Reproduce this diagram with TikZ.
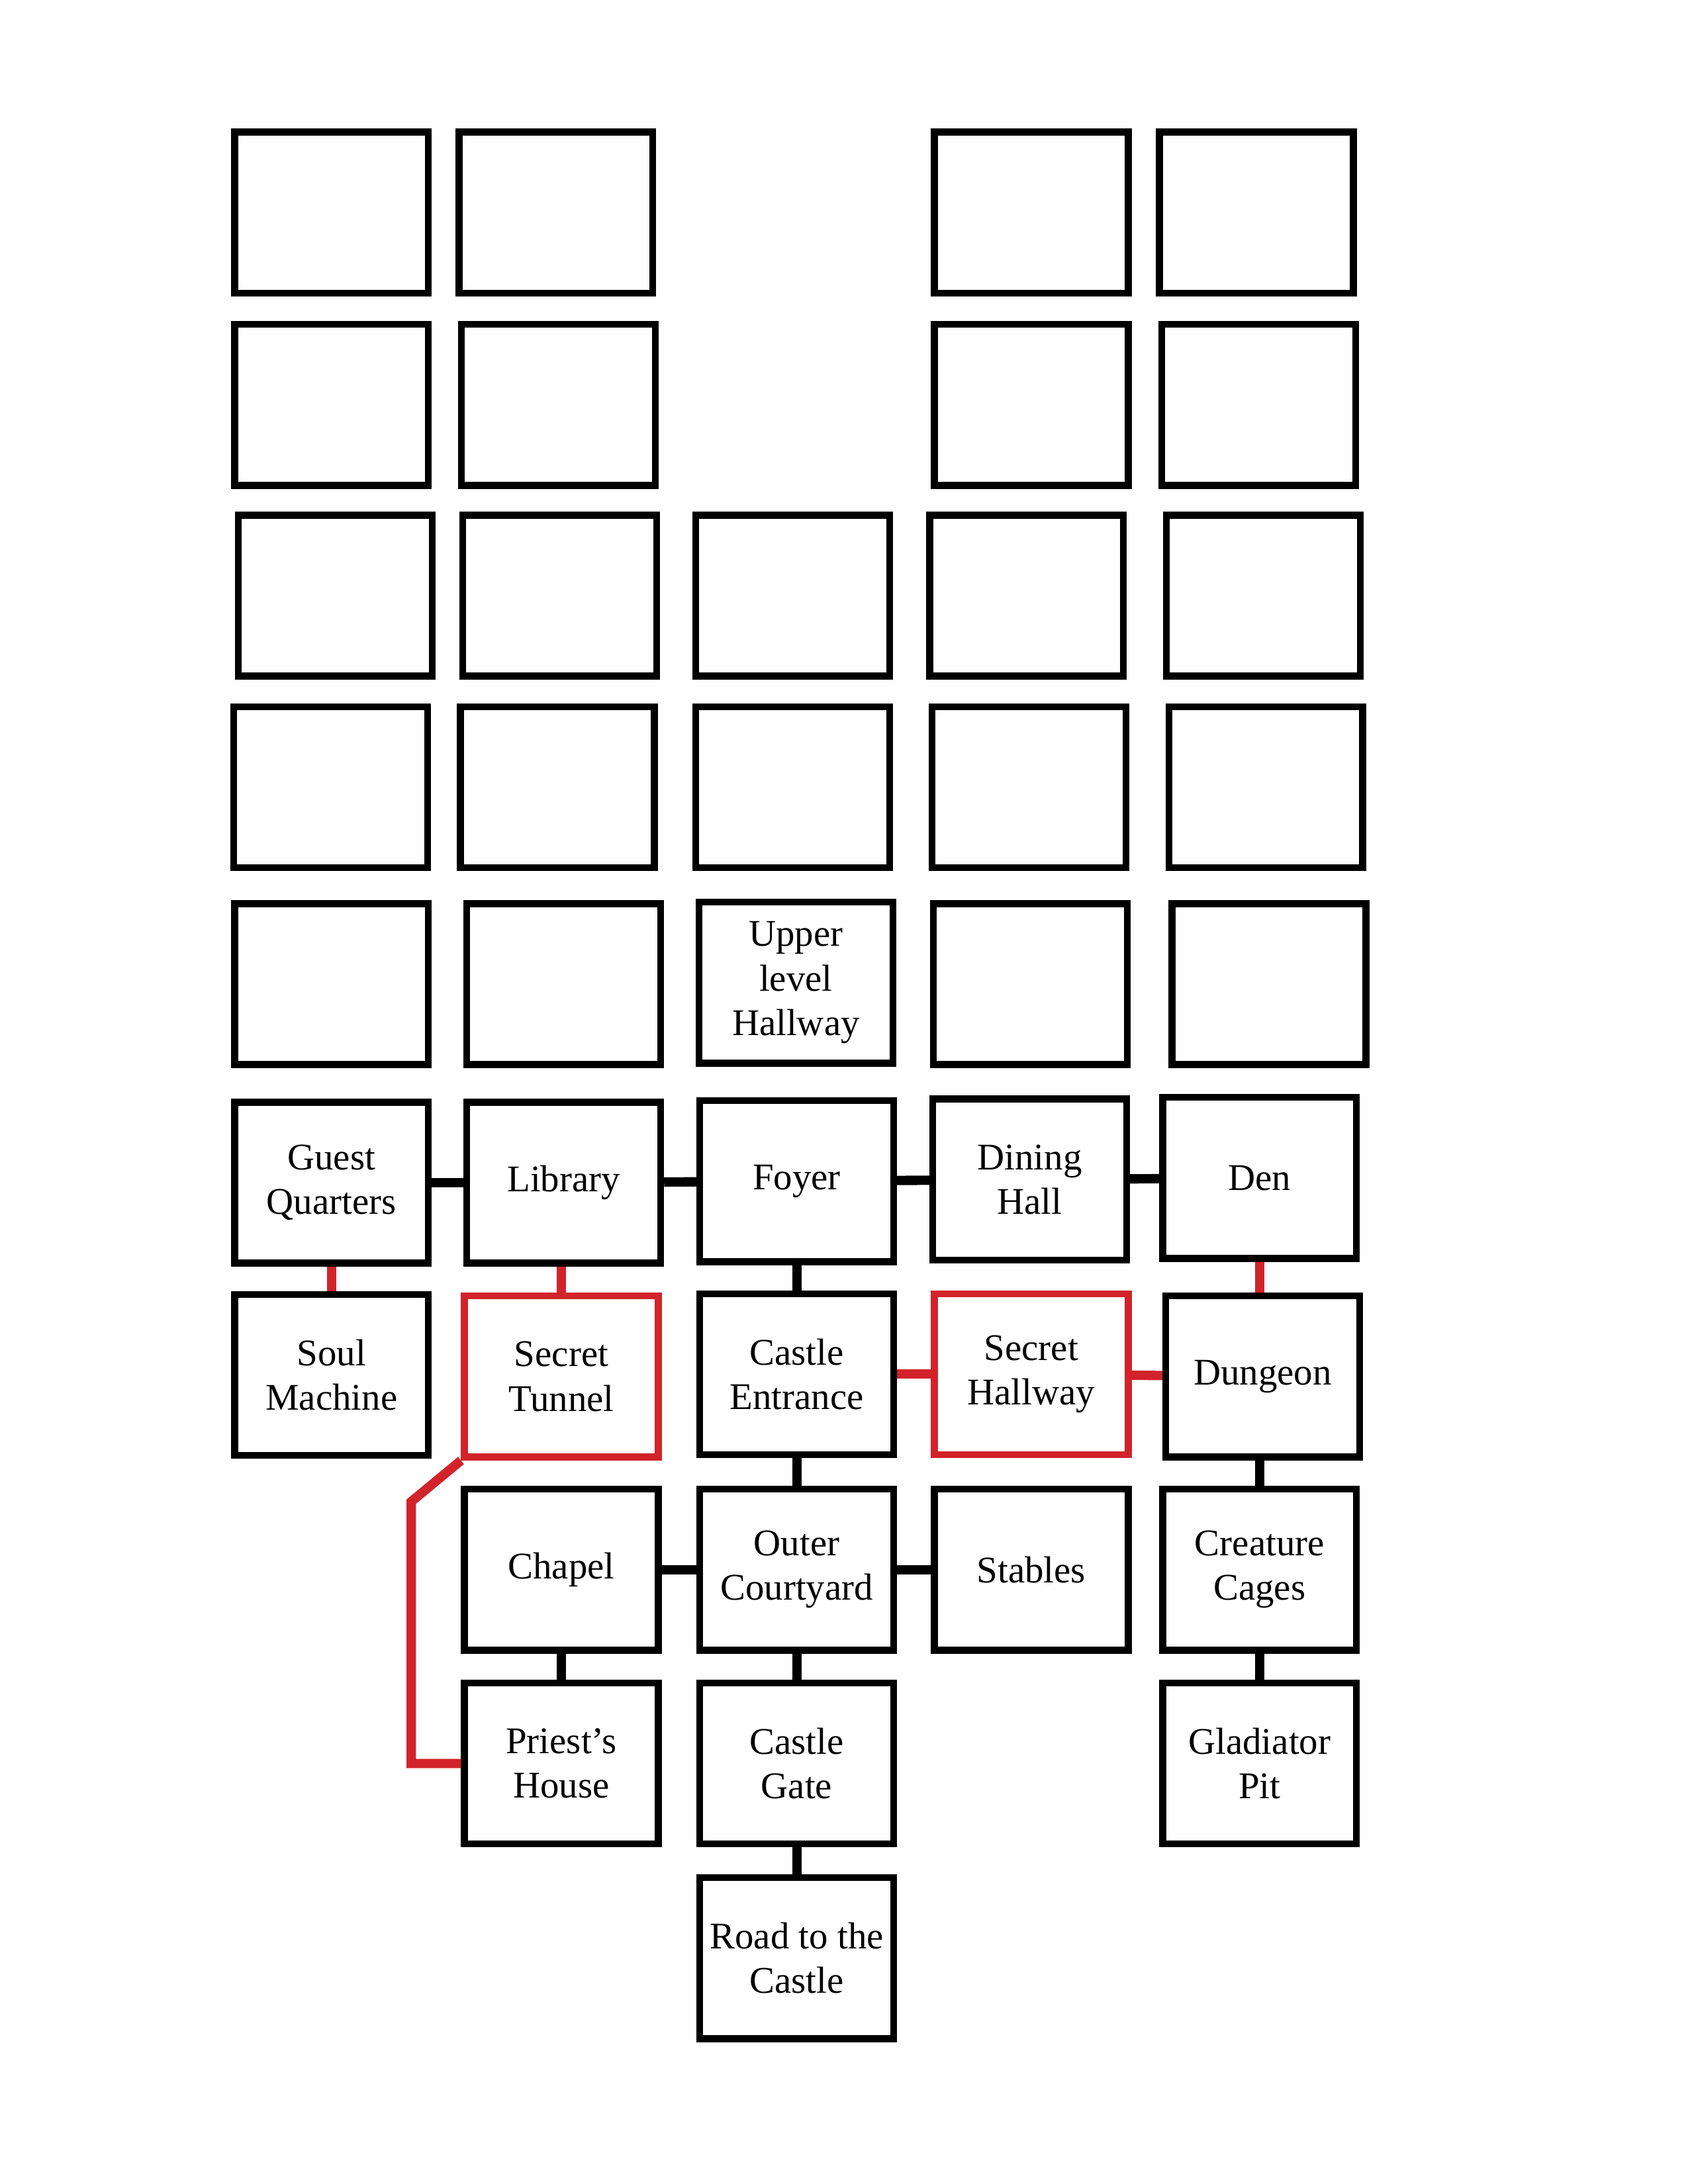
\documentclass[tikz,border=0pt]{standalone}
\usepackage{fontspec}
\setmainfont{Liberation Serif}
\usepackage{tikz}
\definecolor{secretred}{RGB}{210,35,42}

\begin{document}
\begin{tikzpicture}[
	room/.style={draw, line width=2.5pt, minimum width=2.48cm, minimum height=2.06cm,
		inner sep=0pt, align=center, font=\fontsize{13.7}{16.2}\selectfont},
	secret/.style={room, draw=secretred},
	link/.style={line width=3.4pt},
	hidden/.style={link, draw=secretred}]
	\useasboundingbox (0,0) rectangle (21.59,-27.94);
	% upper floors, still empty
	\node (a1) at (4.24,-2.72) [room] {};
	\node (a2) at (7.11,-2.72) [room] {};
	\node (a4) at (13.19,-2.72) [room] {};
	\node (a5) at (16.07,-2.72) [room] {};
		\node (b1) at (4.24,-5.18) [room] {};
		\node (b2) at (7.14,-5.18) [room] {};
		\node (b4) at (13.19,-5.18) [room] {};
		\node (b5) at (16.10,-5.18) [room] {};
	\node (c1) at (4.29,-7.62) [room] {};
	\node (c2) at (7.16,-7.62) [room] {};
	\node (c3) at (10.14,-7.62) [room] {};
	\node (c4) at (13.13,-7.62) [room] {};
	\node (c5) at (16.16,-7.62) [room] {};
		\node (d1) at (4.23,-10.07) [room] {};
		\node (d2) at (7.13,-10.07) [room] {};
		\node (d3) at (10.14,-10.07) [room] {};
		\node (d4) at (13.16,-10.07) [room] {};
		\node (d5) at (16.19,-10.07) [room] {};
	\node (e1) at (4.24,-12.59) [room] {};
	\node (e2) at (7.21,-12.59) [room] {};
	\node (upper) at (10.18,-12.57) [room] {Upper\\level\\Hallway};
	\node (e4) at (13.18,-12.59) [room] {};
	\node (e5) at (16.23,-12.59) [room] {};
	% ground floor
	\node (guest) at (4.24,-15.13) [room] {Guest\\Quarters};
	\node (library) at (7.21,-15.13) [room] {Library};
	\node (foyer) at (10.19,-15.11) [room] {Foyer};
	\node (dining) at (13.17,-15.09) [room] {Dining\\Hall};
	\node (den) at (16.11,-15.07) [room] {Den};
		\node (soul) at (4.24,-17.59) [room] {Soul\\Machine};
		\node (tunnel) at (7.18,-17.61) [secret] {Secret\\Tunnel};
		\node (entrance) at (10.19,-17.58) [room] {Castle\\Entrance};
		\node (hallway) at (13.19,-17.58) [secret] {Secret\\Hallway};
		\node (dungeon) at (16.15,-17.61) [room] {Dungeon};
	\node (chapel) at (7.18,-20.08) [room] {Chapel};
	\node (court) at (10.19,-20.08) [room] {Outer\\Courtyard};
	\node (stables) at (13.19,-20.08) [room] {Stables};
	\node (cages) at (16.11,-20.08) [room] {Creature\\Cages};
		\node (priest) at (7.18,-22.56) [room] {Priest’s\\House};
		\node (gate) at (10.19,-22.56) [room] {Castle\\Gate};
		\node (pit) at (16.11,-22.56) [room] {Gladiator\\Pit};
	\node (road) at (10.19,-25.05) [room] {Road to the\\Castle};
	\coordinate (bend) at (5.26,-19.21);
	% open passages
	\draw[link] (guest) -- (library);
	\draw[link] (library) -- (foyer);
	\draw[link] (foyer) -- (dining);
	\draw[link] (dining) -- (den);
	\draw[link] (foyer) -- (entrance);
	\draw[link] (entrance) -- (court);
	\draw[link] (chapel) -- (court);
	\draw[link] (court) -- (stables);
	\draw[link] (court) -- (gate);
	\draw[link] (chapel) -- (priest);
	\draw[link] (gate) -- (road);
	\draw[link] (cages.north |- dungeon.south) -- (cages.north);
	\draw[link] (cages) -- (pit);
	% secret passages
	\draw[hidden] (guest) -- (soul);
	\draw[hidden] (library.south -| tunnel.north) -- (tunnel.north);
	\draw[hidden] (entrance) -- (hallway);
	\draw[hidden] (hallway) -- (dungeon);
	\draw[hidden] (den) -- (dungeon.north -| den.south);
	\draw[hidden] (tunnel.south west) -- (bend) |- (priest.west);
\end{tikzpicture}
\end{document}
